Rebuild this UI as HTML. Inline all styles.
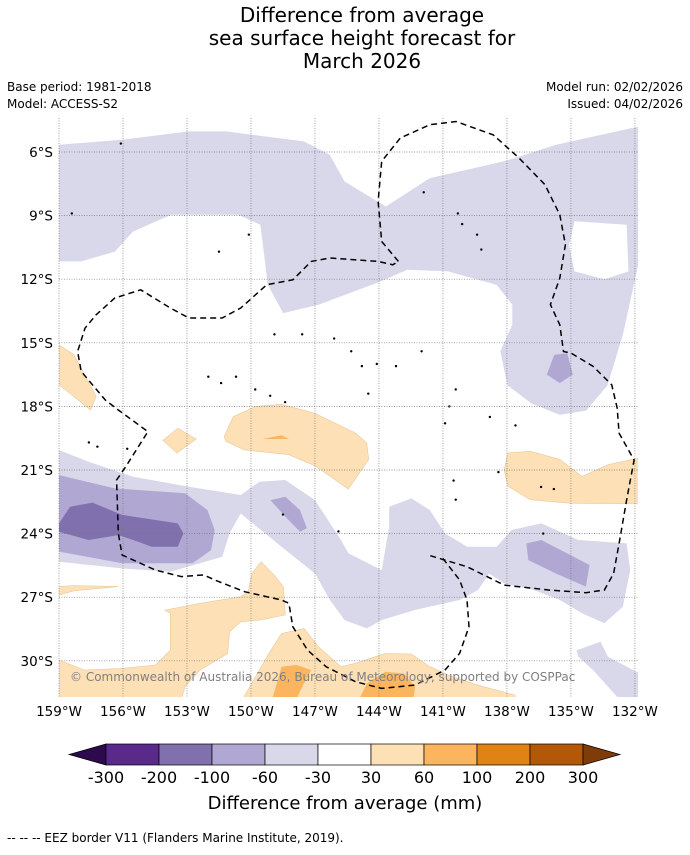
<!DOCTYPE html>
<html><head><meta charset="utf-8">
<style>
body{margin:0;background:#fff;width:690px;height:850px;overflow:hidden;font-family:"Liberation Sans","DejaVu Sans",sans-serif}
</style></head>
<body>
<svg id="svg" width="690" height="850" xmlns="http://www.w3.org/2000/svg" font-family="DejaVu Sans, Liberation Sans, sans-serif">
<text x="362" y="22" font-size="20" text-anchor="middle">Difference from average</text>
<text x="362" y="45" font-size="20" text-anchor="middle">sea surface height forecast for</text>
<text x="362" y="68" font-size="20" text-anchor="middle">March 2026</text>
<text x="7" y="91" font-size="12">Base period: 1981-2018</text>
<text x="7" y="108" font-size="12">Model: ACCESS-S2</text>
<text x="683" y="91" font-size="12" text-anchor="end">Model run: 02/02/2026</text>
<text x="683" y="108" font-size="12" text-anchor="end">Issued: 04/02/2026</text>
<defs><clipPath id="mc"><rect x="59" y="118" width="579" height="579"/></clipPath></defs>
<g id="map" clip-path="url(#mc)"></g>
<g id="grid"></g>
<g id="eez" clip-path="url(#mc)"></g>
<text x="70" y="681" font-size="12" fill="#808080">© Commonwealth of Australia 2026, Bureau of Meteorology, supported by COSPPac</text>
<g id="axes"></g>
<g id="cbar"></g>
<text x="345" y="809" font-size="18" text-anchor="middle">Difference from average (mm)</text>
<text x="7" y="842" font-size="12">--  --  -- EEZ border V11 (Flanders Marine Institute, 2019).</text>
</svg>
<script>
const lonTicks=[-159,-156,-153,-150,-147,-144,-141,-138,-135,-132];
const latTicks=[6,9,12,15,18,21,24,27,30];
const levels=[-300,-200,-100,-60,-30,30,60,100,200,300];
const levelColors=["#2d0a4e","#5a2a8a","#8070ad","#b0a8d3","#d8d8ea","#ffffff","#fde0b6","#fbb55f","#e08214","#b35806","#7f3b08"];
const LAV="#d8d8ea",PUR="#b0a8d3",DPUR="#8070ad",OR="#fde0b6",DOR="#fbb55f";
const topLav=[[-159,5.66],[-156.04,5.42],[-152.92,5.03],[-151.17,5.03],[-147.53,5.5],[-146.31,6.13],[-145.61,7.39],[-143.68,8.57],[-141.61,7.23],[-138.13,6.44],[-135.69,5.66],[-131.78,4.79],[-131.78,11.0],[-132.56,14.6],[-133.28,17.0],[-134.29,18.2],[-135.52,18.4],[-136.86,17.86],[-137.98,17.0],[-138.31,15.4],[-137.75,14.15],[-137.75,13.2],[-138.49,12.26],[-140.77,11.63],[-142.67,11.55],[-143.9,12.1],[-146.81,13.2],[-148.49,13.6],[-149.21,12.26],[-149.56,9.43],[-150.61,8.96],[-153.74,8.96],[-155.53,9.75],[-156.38,10.7],[-157.95,11.16],[-159,11.16]];
const hole=[[-134.83,9.27],[-132.39,9.43],[-132.3,11.63],[-133.43,12.0],[-134.83,11.63],[-135.09,10.4]];
const purNE=[[-135.78,15.56],[-135.17,15.5],[-134.91,16.5],[-135.52,16.9],[-136.13,16.5]];
const orW=[[-159,15.1],[-158.3,15.56],[-157.26,17.53],[-157.52,18.17],[-159,16.98]];
const orDiamond=[[-154.13,19.6],[-153.43,19.03],[-152.57,19.54],[-153.47,20.2]];
const orC=[[-151.26,19.42],[-150.83,18.48],[-149.78,18.0],[-148.57,17.9],[-147,18.33],[-145.09,19.26],[-144.57,19.73],[-144.48,20.5],[-145.43,21.9],[-147,20.8],[-148.22,20.28],[-150.3,20.05],[-151.17,19.65]];
const dorC=[[-149.47,19.54],[-148.57,19.36],[-148.22,19.54]];
const orE=[[-138.13,21.0],[-137.96,20.2],[-136.91,20.12],[-135.52,20.5],[-134.48,21.3],[-133.26,20.75],[-131.78,20.43],[-131.78,22.6],[-135,22.57],[-136.91,22.4],[-137.96,21.76]];
const orThin=[[-159,26.5],[-158.3,26.45],[-156.22,26.5],[-158.3,26.7],[-159,26.9]];
const lavBand=[[-159,20.06],[-157.61,20.61],[-155.52,21.32],[-152.91,21.79],[-150.48,22.18],[-149.61,21.55],[-148.39,21.47],[-147,22.42],[-145.78,24.3],[-145.43,24.93],[-143.87,25.72],[-143.52,23.67],[-143.52,22.73],[-142.48,22.34],[-141.61,22.89],[-140.91,23.99],[-139.87,24.62],[-138.48,24.62],[-137.78,23.83],[-136.39,23.52],[-134.65,24.3],[-132.39,24.46],[-132.22,25.72],[-132.57,27.45],[-133.43,28.23],[-134.48,27.76],[-135.52,27.13],[-136.74,26.66],[-138.13,26.35],[-138.83,25.88],[-139.35,26.66],[-140.22,27.13],[-142.3,27.6],[-143.87,28.08],[-144.57,28.47],[-145.61,28.08],[-146.3,27.13],[-147,25.88],[-148.57,24.62],[-150.48,23.05],[-151,23.99],[-151.35,25.09],[-152.39,25.4],[-153.78,25.8],[-156.04,25.64],[-159,25.33]];
const purW=[[-159,21.24],[-156.39,21.87],[-153.09,22.1],[-152.04,22.89],[-151.7,23.83],[-151.87,24.78],[-152.74,25.4],[-156.04,25.4],[-159,24.85]];
const dpurW=[[-159,23.52],[-158.48,22.73],[-157.43,22.54],[-156.04,23.12],[-154.48,23.36],[-153.43,23.52],[-153.17,23.99],[-153.43,24.62],[-154.65,24.62],[-155.52,24.3],[-156.22,24.07],[-157.61,24.3],[-159,23.91]];
const purC=[[-149.09,22.42],[-148.39,22.26],[-147.7,22.89],[-147.38,23.75],[-147.7,23.91],[-148.39,23.2]];
const purE=[[-137.09,24.46],[-136.39,24.3],[-134.13,25.48],[-134.3,26.5],[-135.7,25.88],[-137,25.25]];
const orSW=[[-159,29.97],[-157.78,30.44],[-156.04,30.36],[-154.48,30.2],[-153.78,29.5],[-153.78,27.77],[-154.04,27.61],[-152.39,27.29],[-150.48,26.98],[-150.13,26.74],[-149.96,25.88],[-149.52,25.33],[-148.91,25.96],[-148.48,26.51],[-148.39,27.84],[-149.61,28.08],[-150.48,28.16],[-151,28.63],[-151.09,29.65],[-152.39,30.44],[-153.09,31.22],[-153.26,31.8],[-159,31.8]];
const orS=[[-150.39,31.8],[-149.61,30.44],[-149.26,29.81],[-148.57,28.71],[-147.52,28.47],[-146.83,29.34],[-145.78,30.28],[-145.09,30.12],[-143.7,29.65],[-142.48,29.68],[-141.61,30.28],[-140.57,30.75],[-139.35,31.15],[-137.61,31.62],[-137.61,31.8]];
const dorS1=[[-149,31.8],[-148.57,30.28],[-147.87,30.2],[-147.17,30.44],[-147.52,31.07],[-147.87,31.8]];
const dorS2=[[-144.91,31.8],[-144.57,31.07],[-143.7,30.52],[-142.83,30.6],[-142.3,31.22],[-142.39,31.8]];
const lavSE=[[-134.74,29.5],[-133.61,29.1],[-133.26,29.81],[-131.78,30.6],[-131.78,31.8],[-132.74,31.8],[-133.96,30.44],[-134.65,29.81]];
const eez1=[[-143.09,11.16],[-143.87,10.22],[-144.04,8.33],[-143.87,6.44],[-143,5.34],[-141.61,4.71],[-140.39,4.56],[-138.65,5.19],[-137.43,6.29],[-136.22,7.54],[-135.52,8.96],[-135.26,10.37],[-135.52,11.95],[-135.96,13.2],[-135.52,14.15],[-135.35,15.41],[-135,15.48],[-133.96,16.11],[-133.09,16.98],[-132.83,18.08],[-132.74,19.27],[-132.04,20.53],[-132.39,22.42],[-132.74,24.46],[-133,25.88],[-133.43,26.66],[-134.3,26.79],[-136.04,26.66],[-138.13,26.43],[-139.87,25.56],[-141.7,25.01]];
const eez2=[[-141,25.17],[-140.22,26.19],[-139.87,27.13],[-139.78,28.39],[-140.22,29.65],[-140.91,30.44],[-142.3,31.14],[-143.87,31.3],[-145.09,30.99],[-146.48,30.28],[-147.35,29.49],[-148.04,28.39],[-148.22,27.29],[-148.57,27.13],[-150.3,26.74],[-151.7,26.19],[-152.22,25.95],[-153.26,26.03],[-154.48,25.72],[-156.04,25.01],[-156.22,23.99],[-156.3,21.47],[-155.87,20.84],[-154.83,19.19],[-156.22,18.17],[-156.83,17.7],[-157.96,16.35],[-158.13,15.41],[-157.78,14.31],[-157.26,13.68],[-156.39,12.89],[-155.17,12.5],[-153.78,13.36],[-152.91,13.83],[-151.35,13.83],[-150.48,13.36],[-149.26,12.26],[-148.04,12.03],[-147.17,11.16],[-146.3,11.0],[-144.04,11.16],[-143.35,11.32],[-143.09,11.16]];
const islands=[[-156.1,5.6],[-158.4,8.9],[-141.9,7.9],[-140.3,8.9],[-140.1,9.4],[-139.4,9.9],[-139.2,10.6],[-150.1,9.9],[-151.5,10.7],[-148.9,14.6],[-147.6,14.6],[-146.1,14.8],[-145.3,15.4],[-144.8,16.1],[-144.1,16.0],[-143.2,16.1],[-150.7,16.6],[-149.8,17.2],[-149.1,17.5],[-148.4,17.8],[-152.0,16.6],[-151.4,16.9],[-144.5,17.4],[-142.0,15.4],[-140.4,17.2],[-140.7,18.0],[-138.8,18.5],[-137.6,18.9],[-140.9,18.8],[-138.4,21.1],[-136.4,21.8],[-135.8,21.9],[-140.5,21.5],[-140.4,22.4],[-136.3,24.0],[-155.8,20.0],[-157.6,19.7],[-157.2,19.9],[-145.9,23.9],[-148.5,23.1]];
const NS="http://www.w3.org/2000/svg";
function xs(lon){return 59+(lon+159)*21.33;}
function ys(lat){return 152+(lat-6)*21.2;}
function mk(tag,attrs,parent){const e=document.createElementNS(NS,tag);for(const k in attrs)e.setAttribute(k,attrs[k]);parent.appendChild(e);return e;}
function pts(a){return a.map(p=>xs(p[0]).toFixed(1)+","+ys(p[1]).toFixed(1)).join(" ");}
const map=document.getElementById('map');
function poly(a,fill,name,stroke){const e=mk('polygon',{points:pts(a),fill:fill,stroke:stroke||'none','stroke-width':0.6},map);

}
poly(topLav,LAV,'region-minus30-north');
poly(hole,'#ffffff','region-neutral-hole');
poly(purNE,PUR,'region-minus60-northeast');
poly(orW,OR,'region-plus30-west','#e8c99c');
poly(orDiamond,OR,'region-plus30-diamond','#e8c99c');
poly(orC,OR,'region-plus30-central','#e8c99c');
poly(dorC,DOR,'region-plus60-central');
poly(orE,OR,'region-plus30-east','#e8c99c');
poly(orThin,OR,'region-plus30-thin','#e8c99c');
poly(lavBand,LAV,'region-minus30-band');
poly(purW,PUR,'region-minus60-west');
poly(dpurW,DPUR,'region-minus100-west');
poly(purC,PUR,'region-minus60-central');
poly(purE,PUR,'region-minus60-east');
poly(orSW,OR,'region-plus30-southwest','#e8c99c');
poly(orS,OR,'region-plus30-south','#e8c99c');
poly(dorS1,DOR,'region-plus60-south-1');
poly(dorS2,DOR,'region-plus60-south-2');
poly(lavSE,LAV,'region-minus30-southeast');
islands.forEach(p=>{const c=mk('circle',{cx:xs(p[0]),cy:ys(p[1]),r:1.2,fill:'#000'},map);

});
const grid=document.getElementById('grid');
lonTicks.forEach(l=>{const e=mk('line',{x1:xs(l),x2:xs(l),y1:118,y2:697,stroke:'#777','stroke-width':0.7,'stroke-dasharray':'1,1.5'},grid);

});
latTicks.forEach(l=>{const e=mk('line',{x1:59,x2:638,y1:ys(l),y2:ys(l),stroke:'#777','stroke-width':0.7,'stroke-dasharray':'1,1.5'},grid);

});
const eez=document.getElementById('eez');
[eez1,eez2].forEach(a=>{const e=mk('polyline',{points:pts(a),fill:'none',stroke:'#000','stroke-width':1.5,'stroke-dasharray':'6,4'},eez);

});
const axes=document.getElementById('axes');
lonTicks.forEach(l=>{const t=mk('text',{x:xs(l),y:716,'font-size':13.5,'text-anchor':'middle'},axes);t.textContent=(-l)+"°W";

});
latTicks.forEach(l=>{const t=mk('text',{x:53,y:ys(l)+5,'font-size':13.5,'text-anchor':'end'},axes);t.textContent=l+"°S";

});
const cb=document.getElementById('cbar');
const cx0=106,cw=53,cy=744,ch=21;
const tl=mk('polygon',{points:`${cx0},${cy} ${cx0-37},${cy+ch/2} ${cx0},${cy+ch}`,fill:levelColors[0],stroke:'#000','stroke-width':0.7},cb);


for(let i=0;i<levels.length-1;i++){const r=mk('rect',{x:cx0+i*cw,y:cy,width:cw,height:ch,fill:levelColors[i+1],stroke:'#000','stroke-width':0.7},cb);

}
const xe=cx0+(levels.length-1)*cw;
const tr=mk('polygon',{points:`${xe},${cy} ${xe+37},${cy+ch/2} ${xe},${cy+ch}`,fill:levelColors[levelColors.length-1],stroke:'#000','stroke-width':0.7},cb);


levels.forEach((v,i)=>{const t=mk('text',{x:cx0+i*cw,y:783,'font-size':16,'text-anchor':'middle'},cb);t.textContent=v;

});
</script>
</body></html>
